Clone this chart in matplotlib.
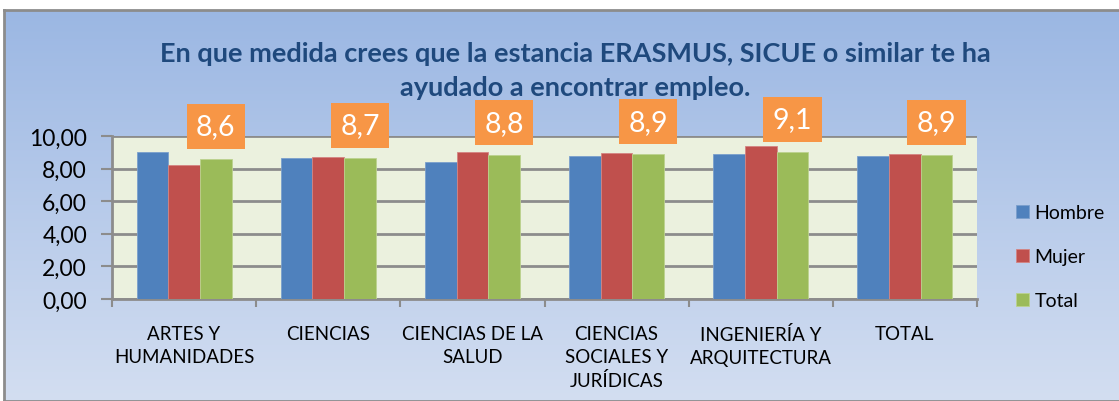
import matplotlib.pyplot as plt
import numpy as np
from matplotlib.colors import LinearSegmentedColormap

categories = ['ARTES Y\nHUMANIDADES', 'CIENCIAS', 'CIENCIAS DE LA\nSALUD',
              'CIENCIAS\nSOCIALES Y\nJURÍDICAS', 'INGENIERÍA Y\nARQUITECTURA', 'TOTAL']
hombre = [9.00, 8.67, 8.38, 8.77, 8.92, 8.79]
mujer = [8.24, 8.69, 9.00, 8.96, 9.39, 8.92]
total = [8.59, 8.67, 8.83, 8.88, 9.04, 8.86]
total_labels = ['8,6', '8,7', '8,8', '8,9', '9,1', '8,9']
yticks = [0, 2, 4, 6, 8, 10]
title = 'En que medida crees que la estancia ERASMUS, SICUE o similar te ha\nayudado a encontrar empleo.'

plt.rcParams['font.family'] = ['Lato', 'DejaVu Sans']

fig = plt.figure(figsize=(11.19, 4.02), dpi=100)

# gradient background with grey border
bg = fig.add_axes([4 / 1119, 0, 1, 391 / 402], zorder=-5)
cmap = LinearSegmentedColormap.from_list('bg', ['#9bb7e3', '#d3def1'])
bg.imshow(np.linspace(0, 1, 256).reshape(-1, 1), aspect='auto', cmap=cmap,
          extent=[0, 1, 0, 1])
bg.set_xticks([])
bg.set_yticks([])
for s in bg.spines.values():
    s.set_color('#8c8c8c')
    s.set_linewidth(2)

ax = fig.add_axes([112 / 1119, 1 - 300 / 402, 865 / 1119, 163 / 402])
ax.set_facecolor('#ebf1de')

x = np.arange(len(categories))
w = 0.22
ax.bar(x - w, hombre, w, color='#4f81bd', edgecolor='#7a9fcc', linewidth=0.6, label='Hombre', zorder=3)
ax.bar(x, mujer, w, color='#c0504d', edgecolor='#d48482', linewidth=0.6, label='Mujer', zorder=3)
bars = ax.bar(x + w, total, w, color='#9bbb59', edgecolor='#bcd28e', linewidth=0.6, label='Total', zorder=3)

for b, lab in zip(bars, total_labels):
    ax.annotate(lab, (b.get_x() + b.get_width() / 2, b.get_height()),
                xytext=(0, 14), textcoords='offset points', ha='center', va='bottom',
                fontsize=20.5, color='white', zorder=5, annotation_clip=False,
                bbox=dict(boxstyle='square,pad=0.33', fc='#f79646', ec='none'))

ax.set_ylim(0, 10)
ax.set_xlim(-0.5, len(categories) - 0.5)
ax.set_yticks(yticks)
ax.set_yticklabels([('%.2f' % v).replace('.', ',') for v in yticks], fontsize=16.5)
ax.yaxis.grid(True, color='#8c8c8c', linewidth=2, zorder=0)
ax.set_xticks(x)
ax.set_xticklabels(categories, fontsize=13.5, linespacing=1.4)
ax.set_xticks(np.arange(-0.5, len(categories)), minor=True)
ax.tick_params(axis='x', which='major', length=0, pad=19)
ax.tick_params(axis='x', which='minor', length=6, width=1.5, color='#8c8c8c')
ax.tick_params(axis='y', length=8, width=1.5, color='#8c8c8c', pad=10)
for side in ['top', 'right']:
    ax.spines[side].set_visible(False)
for side in ['left', 'bottom']:
    ax.spines[side].set_color('#8c8c8c')
    ax.spines[side].set_linewidth(2)

ax.legend(loc='center left', bbox_to_anchor=(1.025, 0.26), frameon=False, fontsize=14,
          handlelength=0.65, handleheight=0.65, handletextpad=0.3, labelspacing=1.4)

fig.text(0.514, 1 - 71 / 402, title, ha='center', va='center', fontsize=19.5,
         fontweight='bold', color='#1f497d', linespacing=1.55)

fig.savefig('out.png', dpi=100)
